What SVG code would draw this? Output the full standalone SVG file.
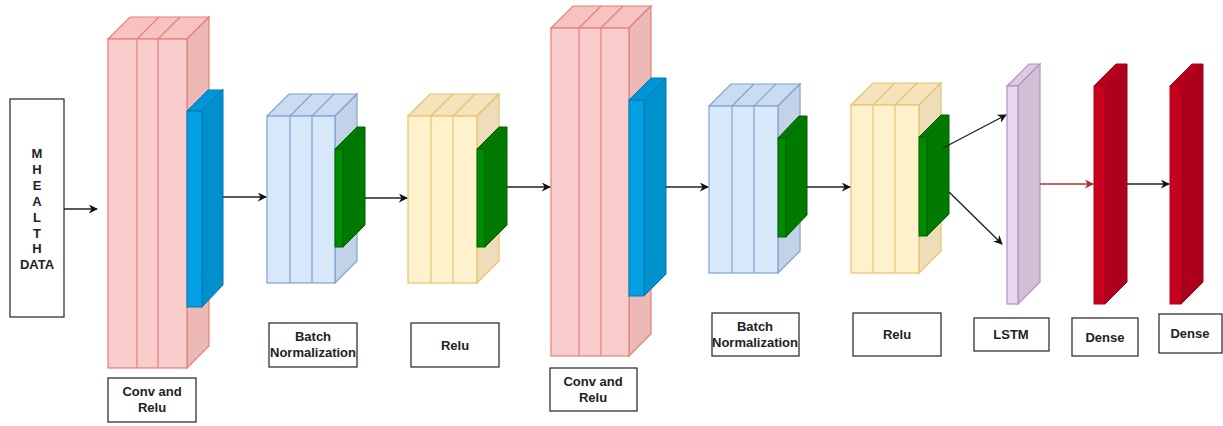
<svg xmlns="http://www.w3.org/2000/svg" width="1223" height="426" viewBox="0 0 1223 426">
<defs>
<marker id="ah" viewBox="0 0 10 10" refX="9" refY="5" markerWidth="9" markerHeight="9" markerUnits="userSpaceOnUse" orient="auto">
<path d="M0,0 L10,5 L0,10 L3,5 Z" fill="#111"/>
</marker>
<marker id="ahr" viewBox="0 0 10 10" refX="9" refY="5" markerWidth="9" markerHeight="9" markerUnits="userSpaceOnUse" orient="auto">
<path d="M0,0 L10,5 L0,10 L3,5 Z" fill="#B03030"/>
</marker>
</defs>
<style>
text{font-family:"Liberation Sans",Arial,sans-serif;font-weight:bold;font-size:13px;fill:#222;text-anchor:middle}
.lbl{fill:#fff;stroke:#333;stroke-width:1.3}
.conv .f{fill:#F9CDCB;stroke:#E57F7C;stroke-width:1.2}
.conv .t{fill:#F6C3C1;stroke:#E57F7C;stroke-width:1.2}
.conv .s{fill:#EDB9B7;stroke:#E57F7C;stroke-width:1.2}
.bn .f{fill:#D8E8FB;stroke:#7EA3D2;stroke-width:1.2}
.bn .t{fill:#CBDCF1;stroke:#7EA3D2;stroke-width:1.2}
.bn .s{fill:#C3D2E6;stroke:#7EA3D2;stroke-width:1.2}
.re .f{fill:#FFF1CC;stroke:#E3C36F;stroke-width:1.2}
.re .t{fill:#F5E3BC;stroke:#E3C36F;stroke-width:1.2}
.re .s{fill:#EEDDB8;stroke:#E3C36F;stroke-width:1.2}
.gr .f{fill:#008A00;stroke:#006200;stroke-width:1}
.gr .t{fill:#007A00;stroke:#006200;stroke-width:1}
.gr .s{fill:#007A00;stroke:#006200;stroke-width:1}
.bl .f{fill:#02A0E3;stroke:#0077B5;stroke-width:1}
.bl .t{fill:#0095D6;stroke:#0077B5;stroke-width:1}
.bl .s{fill:#0090CC;stroke:#0077B5;stroke-width:1}
.ls .f{fill:#E8D6EA;stroke:#B68FC2;stroke-width:1.2}
.ls .t{fill:#DCCAE0;stroke:#B68FC2;stroke-width:1.2}
.ls .s{fill:#D0BFD5;stroke:#B68FC2;stroke-width:1.2}
.de .f{fill:#C8001F;stroke:#B0001A;stroke-width:1}
.de .t{fill:#B8001D;stroke:#B0001A;stroke-width:1}
.de .s{fill:#AE001E;stroke:#9C0018;stroke-width:1}
.ln{fill:none}
.conv .ln{stroke:#E57F7C;stroke-width:1.2}
.bn .ln{stroke:#7EA3D2;stroke-width:1.2}
.re .ln{stroke:#E3C36F;stroke-width:1.2}
.ed{fill:none;stroke:#222;stroke-width:1.4}
</style>

<g id="input">
<rect class="lbl" x="10" y="99" width="54" height="218"/>
<text x="37" y="158">M</text>
<text x="37" y="174">H</text>
<text x="37" y="190">E</text>
<text x="37" y="206">A</text>
<text x="37" y="222">L</text>
<text x="37" y="238">T</text>
<text x="37" y="253">H</text>
<text x="37" y="269">DATA</text>
</g>

<g id="conv1" class="conv">
<polygon class="t" points="108,39 130,17 209,17 187,39"/>
<polygon class="s" points="187,39 209,17 209,346 187,368"/>
<rect class="f" x="108" y="39" width="79" height="329"/>
<path class="ln" d="M137,39V368M158,39V368M137,39L159,17M158,39L180,17"/>
</g>
<g id="conv1out" class="bl">
<polygon class="t" points="187,111 208,90 223,90 202,111"/>
<polygon class="s" points="202,111 223,89 223,285 202,307"/>
<rect class="f" x="187" y="111" width="15" height="196"/>
</g>

<g id="bn1" class="bn">
<polygon class="t" points="267,116 289,94 357,94 335,116"/>
<polygon class="s" points="335,116 357,94 357,261 335,283"/>
<rect class="f" x="267" y="116" width="68" height="167"/>
<path class="ln" d="M290,116V283M312,116V283M290,116L312,94M312,116L334,94"/>
</g>
<g id="bn1out" class="gr">
<polygon class="s" points="343,149 365,127 365,225 343,247"/>
<polygon class="t" points="335,149 357,127 365,127 343,149"/>
<rect class="f" x="335" y="149" width="8" height="98"/>
</g>

<g id="relu1" class="re">
<polygon class="t" points="408,116 430,94 499,94 477,116"/>
<polygon class="s" points="477,116 499,94 499,261 477,283"/>
<rect class="f" x="408" y="116" width="69" height="167"/>
<path class="ln" d="M431,116V283M453,116V283M431,116L453,94M453,116L475,94"/>
</g>
<g id="relu1out" class="gr">
<polygon class="s" points="485,149 507,127 507,225 485,247"/>
<polygon class="t" points="477,149 499,127 507,127 485,149"/>
<rect class="f" x="477" y="149" width="8" height="98"/>
</g>

<g id="conv2" class="conv">
<polygon class="t" points="551,28 573,6 651,6 629,28"/>
<polygon class="s" points="629,28 651,6 651,334 629,356"/>
<rect class="f" x="551" y="28" width="78" height="328"/>
<path class="ln" d="M579,28V356M601,28V356M579,28L601,6M601,28L623,6"/>
</g>
<g id="conv2out" class="bl">
<polygon class="t" points="629,100 651,78 666,78 644,100"/>
<polygon class="s" points="644,100 666,78 666,274 644,296"/>
<rect class="f" x="629" y="100" width="15" height="196"/>
</g>

<g id="bn2" class="bn">
<polygon class="t" points="709,106 731,84 800,84 778,106"/>
<polygon class="s" points="778,106 800,84 800,251 778,273"/>
<rect class="f" x="709" y="106" width="69" height="167"/>
<path class="ln" d="M732,106V273M754,106V273M732,106L754,84M754,106L776,84"/>
</g>
<g id="bn2out" class="gr">
<polygon class="s" points="786,138 807,116 807,215 786,237"/>
<polygon class="t" points="778,138 799,116 807,116 786,138"/>
<rect class="f" x="778" y="138" width="8" height="99"/>
</g>

<g id="relu2" class="re">
<polygon class="t" points="851,105 873,83 941,83 919,105"/>
<polygon class="s" points="919,105 941,83 941,251 919,273"/>
<rect class="f" x="851" y="105" width="68" height="168"/>
<path class="ln" d="M873,105V273M895,105V273M873,105L895,83M895,105L917,83"/>
</g>
<g id="relu2out" class="gr">
<polygon class="s" points="927,137 949,115 949,214 927,236"/>
<polygon class="t" points="919,137 941,115 949,115 927,137"/>
<rect class="f" x="919" y="137" width="8" height="99"/>
</g>

<g id="lstm" class="ls">
<polygon class="t" points="1007,86 1029,64 1040,64 1018,86"/>
<polygon class="s" points="1018,86 1040,64 1040,282 1018,304"/>
<rect class="f" x="1007" y="86" width="11" height="218"/>
</g>

<g id="dense1" class="de">
<polygon class="t" points="1094,86 1116,64 1127,64 1105,86"/>
<polygon class="s" points="1105,86 1127,64 1127,282 1105,304"/>
<rect class="f" x="1094" y="86" width="11" height="218"/>
</g>

<g id="dense2" class="de">
<polygon class="t" points="1170,86 1192,64 1203,64 1181,86"/>
<polygon class="s" points="1181,86 1203,64 1203,282 1181,304"/>
<rect class="f" x="1170" y="86" width="11" height="218"/>
</g>

<g id="labels">
<g id="lbl-conv1"><rect class="lbl" x="108" y="378" width="88" height="44"/><text x="152" y="396">Conv and</text><text x="152" y="412">Relu</text></g>
<g id="lbl-bn1"><rect class="lbl" x="269" y="323" width="88" height="44"/><text x="313" y="341">Batch</text><text x="313" y="357">Normalization</text></g>
<g id="lbl-relu1"><rect class="lbl" x="411" y="323" width="88" height="44"/><text x="455" y="350">Relu</text></g>
<g id="lbl-conv2"><rect class="lbl" x="550" y="368" width="87" height="43"/><text x="593" y="386">Conv and</text><text x="593" y="402">Relu</text></g>
<g id="lbl-bn2"><rect class="lbl" x="712" y="313" width="87" height="43"/><text x="755" y="331">Batch</text><text x="755" y="347">Normalization</text></g>
<g id="lbl-relu2"><rect class="lbl" x="853" y="313" width="88" height="43"/><text x="897" y="339">Relu</text></g>
<g id="lbl-lstm"><rect class="lbl" x="974" y="318" width="75" height="33"/><text x="1011" y="339">LSTM</text></g>
<g id="lbl-dense1"><rect class="lbl" x="1072" y="318" width="66" height="38"/><text x="1105" y="342">Dense</text></g>
<g id="lbl-dense2"><rect class="lbl" x="1159" y="314" width="63" height="39"/><text x="1190" y="338">Dense</text></g>
</g>

<g id="connectors">
<line class="ed" x1="64" y1="209" x2="97" y2="209" marker-end="url(#ah)"/>
<line class="ed" x1="223" y1="197" x2="266" y2="197" marker-end="url(#ah)"/>
<line class="ed" x1="365" y1="198" x2="407" y2="198" marker-end="url(#ah)"/>
<line class="ed" x1="507" y1="187" x2="550" y2="187" marker-end="url(#ah)"/>
<line class="ed" x1="666" y1="187" x2="708" y2="187" marker-end="url(#ah)"/>
<line class="ed" x1="807" y1="187" x2="850" y2="187" marker-end="url(#ah)"/>
<line class="ed" x1="943" y1="148" x2="1006" y2="115" marker-end="url(#ah)"/>
<line class="ed" x1="949" y1="192" x2="1002" y2="244" marker-end="url(#ah)"/>
<line x1="1040" y1="184" x2="1093" y2="184" stroke="#B03030" stroke-width="1.4" marker-end="url(#ahr)"/>
<line class="ed" x1="1127" y1="184" x2="1169" y2="184" marker-end="url(#ah)"/>
</g>
</svg>
